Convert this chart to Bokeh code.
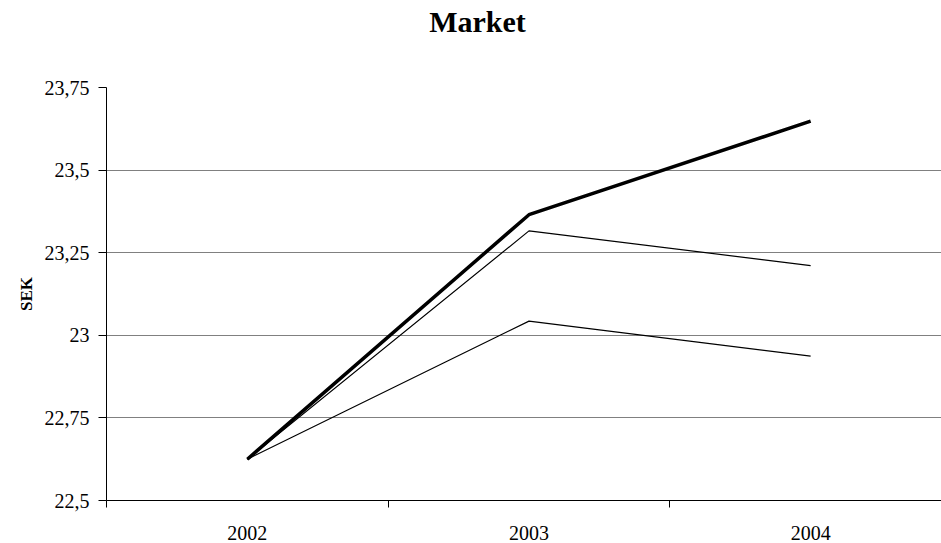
from bokeh.plotting import figure
from bokeh.models import FixedTicker, ColumnDataSource, Div
from bokeh.layouts import column
from bokeh.embed import file_html
from bokeh.resources import INLINE

# ---- data ----
years = ["2002", "2003", "2004"]
series_thick = [22.625, 23.365, 23.648]
series_mid = [22.625, 23.316, 23.211]
series_low = [22.625, 23.043, 22.937]
y_ticks = [22.5, 22.75, 23.0, 23.25, 23.5, 23.75]
y_tick_labels = ["22,5", "22,75", "23", "23,25", "23,5", "23,75"]
title_text = "Market"
y_axis_title = "SEK"

xpos = list(range(len(years)))
FONT = "Liberation Serif"

title_div = Div(text=f'<span style="position:relative;left:7px;top:7px">{title_text}</span>',
                width=941, height=72,
                styles={"font-family": FONT, "font-size": "30px", "font-weight": "bold",
                        "line-height": "30px", "text-align": "center", "color": "black",
                        "margin": "0", "padding": "0", "overflow": "hidden"})

p = figure(width=941, height=471, output_backend="svg", toolbar_location=None,
           x_range=(-0.5, 2.4646), y_range=(22.5, 23.75),
           min_border_left=106, min_border_right=0, min_border_top=15,
           min_border_bottom=43)
p.outline_line_color = None
p.background_fill_color = "white"
p.border_fill_color = "white"

src = ColumnDataSource(dict(x=xpos, a=series_thick, b=series_mid, c=series_low))
p.line("x", "b", source=src, line_color="black", line_width=1.2)
p.line("x", "c", source=src, line_color="black", line_width=1.2)
p.line("x", "a", source=src, line_color="black", line_width=3.5)

# x axis
xa = p.xaxis[0]
xa.ticker = FixedTicker(ticks=xpos, minor_ticks=[-0.5, 0.5, 1.5, 2.5])
xa.major_label_overrides = {i: y for i, y in enumerate(years)}
xa.major_tick_out = 0
xa.major_tick_in = 0
xa.minor_tick_out = 7
xa.minor_tick_in = 0
xa.minor_tick_line_color = "black"
xa.major_label_standoff = 18
xa.major_label_text_font = FONT
xa.major_label_text_font_size = "20px"
xa.major_label_text_color = "black"
xa.axis_line_color = "black"

# y axis
ya = p.yaxis[0]
ya.ticker = FixedTicker(ticks=y_ticks)
ya.major_label_overrides = {t: l for t, l in zip(y_ticks, y_tick_labels)}
ya.major_tick_out = 8
ya.major_tick_in = 0
ya.minor_tick_out = 0
ya.minor_tick_in = 0
ya.major_label_standoff = 9
ya.major_label_text_font = FONT
ya.major_label_text_font_size = "20px"
ya.major_label_text_color = "black"
ya.axis_line_color = "black"
ya.axis_label = y_axis_title
ya.axis_label_text_font = FONT
ya.axis_label_text_font_style = "bold"
ya.axis_label_text_font_size = "17px"
ya.axis_label_text_color = "black"
ya.axis_label_standoff = 6

p.xgrid.grid_line_color = None
p.ygrid.grid_line_color = "#808080"
p.ygrid.grid_line_width = 1

layout = column(title_div, p, spacing=0)
open("out.html", "w").write(file_html(layout, INLINE))
